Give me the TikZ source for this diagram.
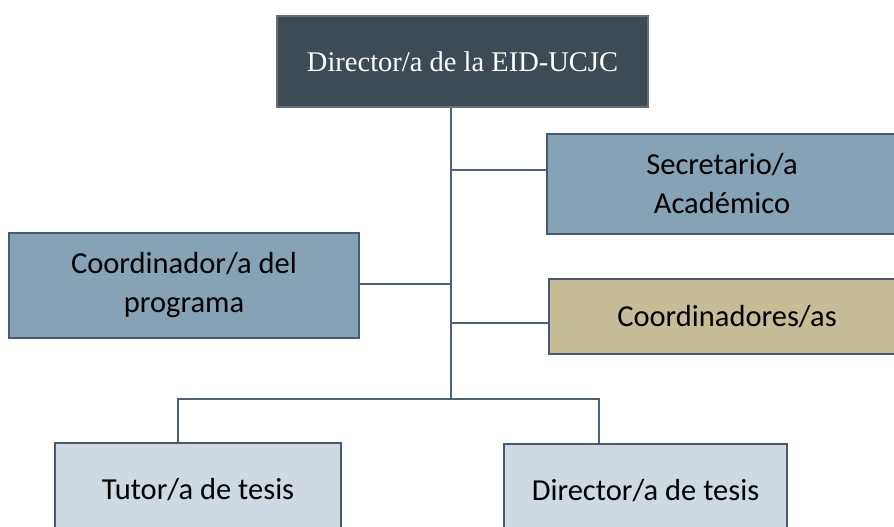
\documentclass[tikz,border=0pt]{standalone}
\usepackage{fontspec}
\setmainfont{Carlito}
\newfontfamily\serifhead{Liberation Serif}
\definecolor{darkbox}{HTML}{3E4B54}
\definecolor{midbox}{HTML}{86A2B6}
\definecolor{khaki}{HTML}{C5BD97}
\definecolor{lightbox}{HTML}{CFD9E1}
\definecolor{edge}{HTML}{4A5A6E}
\definecolor{wire}{HTML}{4F6178}
\tikzset{
  orgbox/.style={draw=edge, line width=2pt, rectangle, align=center, inner sep=0pt, font=\fontsize{30.5}{39}\selectfont, text=black},
  wireline/.style={draw=wire, line width=1.3pt}
}
\begin{document}
\begin{tikzpicture}[x=1pt,y=-1pt]
\useasboundingbox (0,0) rectangle (894,527);
\clip (0,0) rectangle (894,527);
\node[orgbox, fill=darkbox, draw=darkbox!80!white, text=white, font=\serifhead\fontsize{28.5}{32}\selectfont, minimum width=371pt, minimum height=91pt] (top) at (462.5,61.5) {Director/a de la EID-UCJC};
\node[orgbox, fill=midbox, minimum width=350pt, minimum height=100pt] (sec) at (722,184) {Secretario/a\\Académico};
\node[orgbox, fill=midbox, minimum width=350pt, minimum height=105pt] (coord) at (184,285.5) {Coordinador/a del\\programa};
\node[orgbox, fill=khaki, minimum width=356pt, minimum height=75pt] (coords) at (727,316.5) {Coordinadores/as};
\node[orgbox, fill=lightbox, minimum width=286pt, minimum height=94pt] (tutor) at (198,490) {Tutor/a de tesis};
\node[orgbox, fill=lightbox, minimum width=283pt, minimum height=94pt] (dirt) at (645.5,491) {Director/a de tesis};
\coordinate (trunk) at (451,399);
\coordinate (lft) at (178,399);
\coordinate (rgt) at (599,399);
\coordinate (ysec) at (451,170);
\coordinate (ycoord) at (451,284);
\coordinate (ycoords) at (451,323);
\draw[wireline] (top.south -| trunk) -- (trunk);
\draw[wireline] (sec.west |- ysec) -- (ysec);
\draw[wireline] (coord.east |- ycoord) -- (ycoord);
\draw[wireline] (coords.west |- ycoords) -- (ycoords);
\draw[wireline] (tutor.north -| lft) -- (lft) -- (rgt) -- (dirt.north -| rgt);
\end{tikzpicture}
\end{document}
